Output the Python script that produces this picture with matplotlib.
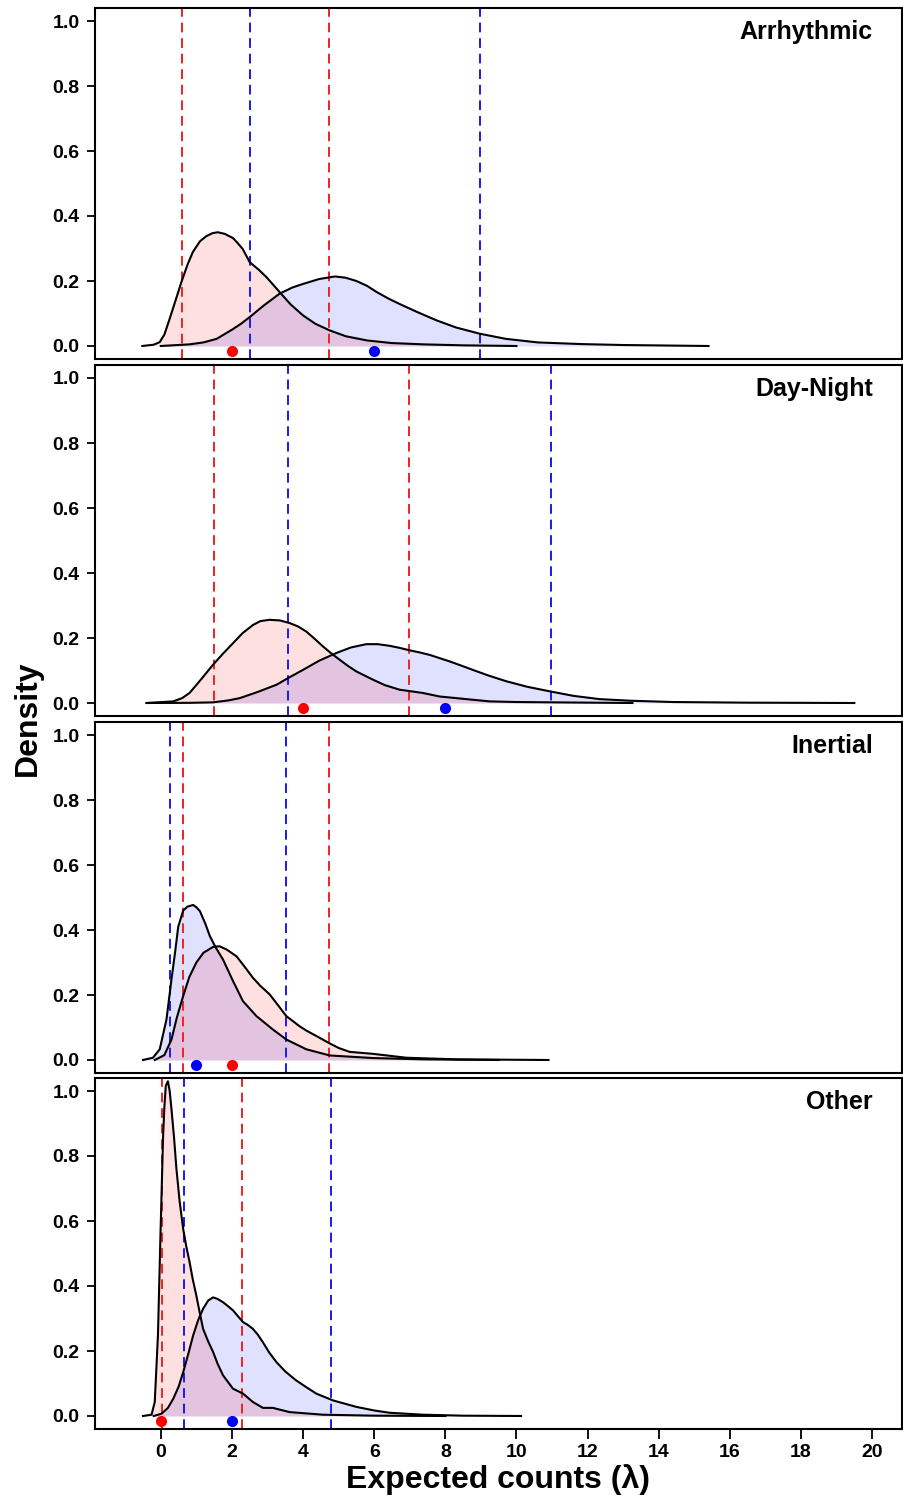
import matplotlib
matplotlib.use("Agg")
import matplotlib.pyplot as plt

plt.rcParams["font.family"] = ["Liberation Sans", "DejaVu Sans"]
plt.rcParams["font.weight"] = "bold"

# panel names (top to bottom)
panels = ["Arrhythmic", "Day-Night", "Inertial", "Other"]

# --- density curves (x = lambda, y = density) ---
arr_red_x = [-0.52, -0.2, -0.03, 0.1, 0.25, 0.4, 0.58, 0.75, 0.9, 1.1, 1.28, 1.45, 1.6, 1.8, 2.03, 2.15, 2.3,
             2.5, 2.75, 2.97, 3.34, 3.65, 4.0, 4.35, 4.75, 5.2, 5.8, 6.5, 7.4, 8.5, 10.0]
arr_red_y = [0.0, 0.004, 0.012, 0.035, 0.084, 0.135, 0.197, 0.25, 0.289, 0.322, 0.338, 0.347, 0.350, 0.345, 0.332,
             0.318, 0.299, 0.258, 0.235, 0.212, 0.166, 0.128, 0.094, 0.068, 0.048, 0.03, 0.017, 0.009, 0.005, 0.002, 0.0]
arr_blue_x = [0.0, 0.8, 1.2, 1.57, 2.0, 2.25, 2.5, 2.9, 3.34, 3.7, 4.0, 4.45, 4.9, 5.2, 5.5, 5.8, 6.07, 6.4, 6.7,
              7.2, 7.75, 8.3, 8.96, 9.7, 10.6, 11.8, 13.0, 15.4]
arr_blue_y = [0.0, 0.005, 0.011, 0.022, 0.05, 0.068, 0.089, 0.125, 0.161, 0.18, 0.191, 0.206, 0.214, 0.21, 0.200,
              0.185, 0.166, 0.146, 0.130, 0.105, 0.079, 0.057, 0.038, 0.022, 0.011, 0.006, 0.003, 0.0]

dn_red_x = [-0.4, 0.35, 0.6, 0.81, 1.15, 1.47, 1.75, 2.03, 2.3, 2.59, 2.8, 3.06, 3.35, 3.62, 3.85, 4.09, 4.3, 4.56,
            4.8, 5.03, 5.25, 5.5, 5.96, 6.3, 6.71, 7.36, 7.84, 8.77, 9.24, 10.0, 11.0, 13.26]
dn_red_y = [0.0, 0.005, 0.015, 0.031, 0.075, 0.118, 0.152, 0.184, 0.215, 0.240, 0.252, 0.256, 0.254, 0.246, 0.236,
            0.220, 0.2, 0.174, 0.152, 0.133, 0.115, 0.097, 0.072, 0.055, 0.041, 0.031, 0.020, 0.010, 0.005, 0.003,
            0.002, 0.0]
dn_blue_x = [-0.4, 0.8, 1.47, 1.9, 2.22, 2.7, 3.25, 3.6, 4.0, 4.45, 4.94, 5.35, 5.78, 6.1, 6.43, 6.7, 7.0, 7.3,
             7.56, 8.12, 8.45, 8.77, 9.2, 9.71, 10.3, 10.93, 11.6, 12.33, 13.2, 14.4, 16.5, 19.5]
dn_blue_y = [0.0, 0.0005, 0.002, 0.008, 0.015, 0.033, 0.056, 0.078, 0.102, 0.13, 0.154, 0.171, 0.181, 0.181, 0.176,
             0.17, 0.162, 0.155, 0.148, 0.128, 0.115, 0.102, 0.085, 0.067, 0.05, 0.036, 0.022, 0.012, 0.007, 0.003,
             0.001, 0.0]

in_red_x = [-0.17, 0.1, 0.3, 0.45, 0.63, 0.8, 1.0, 1.2, 1.47, 1.65, 1.85, 2.13, 2.35, 2.59, 2.8, 3.06, 3.3, 3.53,
            3.9, 4.1, 4.37, 4.75, 5.0, 5.31, 5.96, 6.9, 8.3, 10.9]
in_red_y = [0.0, 0.015, 0.063, 0.13, 0.197, 0.255, 0.3, 0.33, 0.348, 0.35, 0.34, 0.319, 0.288, 0.253, 0.228, 0.202,
            0.168, 0.135, 0.104, 0.09, 0.074, 0.051, 0.037, 0.025, 0.019, 0.007, 0.002, 0.0]
in_blue_x = [-0.5, -0.22, -0.03, 0.16, 0.3, 0.4, 0.49, 0.63, 0.75, 0.91, 1.0, 1.1, 1.25, 1.38, 1.55, 1.75, 2.03,
             2.31, 2.69, 3.15, 3.53, 4.09, 4.75, 5.96, 7.37, 9.5]
in_blue_y = [0.0, 0.007, 0.033, 0.125, 0.248, 0.33, 0.41, 0.46, 0.472, 0.477, 0.47, 0.458, 0.42, 0.381, 0.345, 0.309,
             0.243, 0.181, 0.135, 0.094, 0.063, 0.033, 0.014, 0.006, 0.002, 0.0]

ot_red_x = [-0.5, -0.26, -0.17, -0.08, -0.01, 0.065, 0.1, 0.14, 0.2, 0.25, 0.3, 0.37, 0.44, 0.53, 0.63, 0.72, 0.81,
            0.9, 1.0, 1.1, 1.19, 1.33, 1.47, 1.6, 1.75, 2.03, 2.31, 2.59, 2.87, 3.15, 3.62, 4.56, 6.0, 8.0]
ot_red_y = [0.0, 0.004, 0.043, 0.248, 0.555, 0.862, 0.95, 1.016, 1.03, 1.0, 0.944, 0.86, 0.76, 0.66, 0.575, 0.52,
            0.473, 0.42, 0.37, 0.315, 0.268, 0.23, 0.197, 0.16, 0.125, 0.084, 0.069, 0.043, 0.025, 0.025, 0.012,
            0.004, 0.001, 0.0]
ot_blue_x = [-0.2, 0.02, 0.2, 0.35, 0.5, 0.63, 0.77, 0.91, 1.05, 1.19, 1.33, 1.47, 1.6, 1.75, 1.9, 2.03, 2.31, 2.45,
             2.59, 2.73, 2.87, 3.05, 3.25, 3.5, 3.8, 4.1, 4.37, 4.84, 5.5, 6.0, 6.43, 7.37, 8.5, 10.13]
ot_blue_y = [0.0, 0.007, 0.025, 0.053, 0.09, 0.135, 0.19, 0.248, 0.295, 0.33, 0.355, 0.365, 0.36, 0.35, 0.337, 0.325,
             0.289, 0.28, 0.268, 0.25, 0.227, 0.195, 0.166, 0.137, 0.11, 0.088, 0.069, 0.048, 0.028, 0.017, 0.01,
             0.004, 0.001, 0.0]

# interval bounds (dashed lines) and observed points
red_bounds = [(0.61, 4.72), (1.5, 6.97), (0.63, 4.73), (0.02, 2.28)]
blue_bounds = [(2.51, 8.98), (3.58, 10.98), (0.27, 3.53), (0.65, 4.79)]
red_obs = [2, 4, 2, 0]
blue_obs = [6, 8, 1, 2]

red_curves = [(arr_red_x, arr_red_y), (dn_red_x, dn_red_y), (in_red_x, in_red_y), (ot_red_x, ot_red_y)]
blue_curves = [(arr_blue_x, arr_blue_y), (dn_blue_x, dn_blue_y), (in_blue_x, in_blue_y), (ot_blue_x, ot_blue_y)]

x_ticks = list(range(0, 21, 2))
y_ticks = [0.0, 0.2, 0.4, 0.6, 0.8, 1.0]

W, H = 904, 1500
fig = plt.figure(figsize=(W / 100, H / 100), dpi=100)

panel_px = [(8, 359), (365, 716), (722, 1073), (1078, 1429)]
left_px, right_px = 95, 902

for i, name in enumerate(panels):
    top, bot = panel_px[i]
    ax = fig.add_axes([left_px / W, 1 - bot / H, (right_px - left_px) / W, (bot - top) / H])
    bx, by = blue_curves[i]
    rx, ry = red_curves[i]
    ax.fill_between(bx, by, 0, color="blue", alpha=0.12, lw=0)
    ax.fill_between(rx, ry, 0, color="red", alpha=0.12, lw=0)
    for v in red_bounds[i]:
        ax.axvline(v, color="#ee2222", ls=(0, (5, 3)), lw=1.4)
    for v in blue_bounds[i]:
        ax.axvline(v, color="#1a1aee", ls=(0, (5, 3)), lw=1.4)
    ax.plot(bx, by, color="black", lw=1.5, solid_joinstyle="round")
    ax.plot(rx, ry, color="black", lw=1.5, solid_joinstyle="round")
    ax.plot([red_obs[i]], [-0.014], "o", color="red", ms=8, mec="none", clip_on=False)
    ax.plot([blue_obs[i]], [-0.014], "o", color="blue", ms=8, mec="none", clip_on=False)

    ax.set_xlim(-1.85, 20.84)
    ax.set_ylim(-0.04, 1.04)
    ax.set_yticks(y_ticks)
    ax.set_yticklabels([f"{t:.1f}" for t in y_ticks], fontsize=14, fontweight="bold")
    ax.tick_params(axis="y", direction="out", length=6, width=1.3, pad=5)
    ax.set_xticks(x_ticks)
    if i == len(panels) - 1:
        ax.set_xticklabels([str(t) for t in x_ticks], fontsize=14, fontweight="bold")
        ax.tick_params(axis="x", direction="out", length=7, width=1.3, pad=4)
    else:
        ax.tick_params(axis="x", bottom=False, labelbottom=False)
    for s in ax.spines.values():
        s.set_linewidth(1.5)
    ax.text(0.964, 0.932, name, transform=ax.transAxes, ha="right", va="center",
            fontsize=18, fontweight="bold")

fig.text(28 / W, 1 - 718 / H, "Density", rotation=90, ha="center", va="center",
         fontsize=23, fontweight="bold")
fig.text((left_px + right_px) / 2 / W, 1 - 1480 / H, "Expected counts (λ)", ha="center", va="center",
         fontsize=23, fontweight="bold")

fig.savefig("out.png", dpi=100)
